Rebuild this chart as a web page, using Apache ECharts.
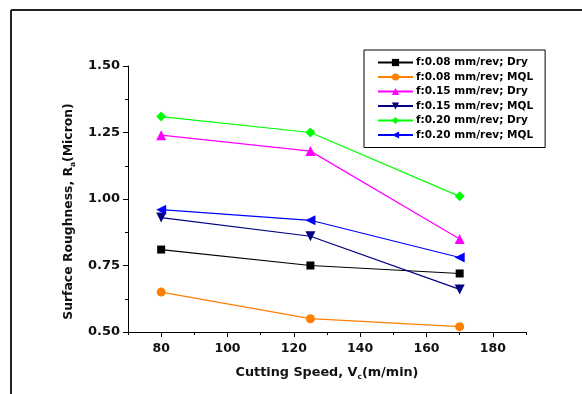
<!DOCTYPE html>
<html>
<head>
<meta charset="utf-8">
<script src="https://cdn.jsdelivr.net/npm/echarts@6/dist/echarts.min.js"></script>
<style>
  html, body { margin: 0; padding: 0; background: #fff; }
  #chart { width: 582px; height: 394px; }
</style>
</head>
<body>
<div id="chart"></div>
<script>
var speeds = [80, 125, 170];
var seriesNames = [
    'f:0.08 mm/rev; Dry',
    'f:0.08 mm/rev; MQL',
    'f:0.15 mm/rev; Dry',
    'f:0.15 mm/rev; MQL',
    'f:0.20 mm/rev; Dry',
    'f:0.20 mm/rev; MQL'
];
var dry008 = [0.81, 0.75, 0.72];
var mql008 = [0.65, 0.55, 0.52];
var dry015 = [1.24, 1.18, 0.85];
var mql015 = [0.93, 0.86, 0.66];
var dry020 = [1.31, 1.25, 1.01];
var mql020 = [0.96, 0.92, 0.78];
var xMajor = [80, 100, 120, 140, 160, 180];
var xMinor = [70, 90, 110, 130, 150, 170, 190];

var values = [dry008, mql008, dry015, mql015, dry020, mql020];
var colors = ['#000000', '#ff7f00', '#ff00ff', '#000080', '#00ff00', '#0000ff'];
var symbols = ['rect', 'circle', 'triangle', 'triangle', 'diamond', 'triangle'];
var rotates = [0, 0, 0, 180, 0, 90];
var sizes = [8, 9, 10, 10, 10, 10];

var chart = echarts.init(document.getElementById('chart'));

var series = values.map(function (v, i) {
    return {
        name: seriesNames[i],
        type: 'line',
        data: v.map(function (y, j) { return [speeds[j], y]; }),
        symbol: symbols[i],
        symbolRotate: rotates[i],
        symbolSize: sizes[i],
        itemStyle: { color: colors[i] },
        lineStyle: { color: colors[i], width: 1.2 },
        animation: false
    };
});

var font = '"DejaVu Sans", Arial, sans-serif';
function nameRich(size) {
    return {
        b: { fontFamily: font, fontWeight: 'bold', fontSize: size, color: '#111' },
        s: { fontFamily: font, fontWeight: 'bold', fontSize: 7.5, color: '#111', verticalAlign: 'bottom', padding: [8, 0, 0, 0] }
    };
}

chart.setOption({
    backgroundColor: '#fff',
    animation: false,
    textStyle: { fontFamily: font },
    grid: { left: 128, right: 56, top: 66, bottom: 62 },
    legend: {
        orient: 'vertical',
        left: 364,
        top: 50,
        width: 182,
        padding: [6, 12, 6, 13],
        borderColor: '#000',
        borderWidth: 1,
        itemWidth: 35,
        itemHeight: 9,
        itemGap: 1.5,
        data: seriesNames,
        textStyle: { fontFamily: font, fontWeight: 'bold', fontSize: 10.5, lineHeight: 13, color: '#000', padding: [0, 0, 0, -2] }
    },
    xAxis: [{
        type: 'value',
        min: 70,
        max: 190,
        interval: 10,
        name: '{b|Cutting Speed, V}{s|c}{b|(m/min)}',
        nameLocation: 'middle',
        nameGap: 33,
        nameTextStyle: { rich: nameRich(12.8) },
        axisLine: { lineStyle: { color: '#000', width: 1 } },
        axisTick: { customValues: xMajor, length: 5, lineStyle: { color: '#000' } },
        axisLabel: { customValues: xMajor, color: '#111', fontFamily: font, fontWeight: 'bold', fontSize: 12.5, margin: 10 },
        splitLine: { show: false }
    }, {
        type: 'value',
        min: 70,
        max: 190,
        interval: 10,
        position: 'bottom',
        axisLine: { show: false },
        axisTick: { customValues: xMinor, length: 3, lineStyle: { color: '#000' } },
        axisLabel: { show: false },
        splitLine: { show: false }
    }],
    yAxis: {
        type: 'value',
        min: 0.5,
        max: 1.5,
        interval: 0.25,
        name: '{b|Surface Roughness, R}{s|a}{b|(Micron)}',
        nameLocation: 'middle',
        nameGap: 49,
        nameTextStyle: { rich: nameRich(12.4), padding: [0, 25, 0, 0] },
        axisLine: { show: true, lineStyle: { color: '#000', width: 1 } },
        axisTick: { show: true, length: 5, lineStyle: { color: '#000' } },
        minorTick: { show: true, splitNumber: 2, length: 3, lineStyle: { color: '#000' } },
        axisLabel: {
            color: '#111', fontFamily: font, fontWeight: 'bold', fontSize: 13, margin: 8,
            formatter: function (v) { return v.toFixed(2); }
        },
        splitLine: { show: false }
    },
    graphic: [
        { type: 'line', shape: { x1: 11, y1: 10, x2: 582, y2: 10 }, style: { stroke: '#222', lineWidth: 2 } },
        { type: 'line', shape: { x1: 11, y1: 10, x2: 11, y2: 394 }, style: { stroke: '#222', lineWidth: 2 } }
    ],
    series: series
});
</script>
</body>
</html>
